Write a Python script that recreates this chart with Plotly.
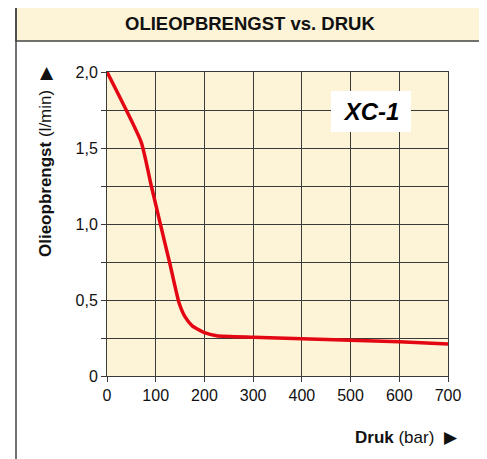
import plotly.graph_objects as go

# Data
druk = [0, 70, 91, 108, 129, 148, 160, 175, 200, 225, 300, 400, 500, 600, 700]
opbrengst = [2.0, 1.54, 1.25, 1.02, 0.74, 0.48, 0.39, 0.33, 0.285, 0.265, 0.255, 0.245, 0.235, 0.225, 0.21]

x_ticks = [0, 100, 200, 300, 400, 500, 600, 700]
x_ticktext = ["0", "100", "200", "300", "400", "500", "600", "700"]
y_ticks = [0, 0.25, 0.5, 0.75, 1.0, 1.25, 1.5, 1.75, 2.0]
y_ticktext = ["0", "", "0,5", "", "1,0", "", "1,5", "", "2,0"]

title_text = "OLIEOPBRENGST vs. DRUK"
model_label = "XC-1"

CREAM = "#FDF3D6"
GRID = "#3a3a3a"
FONT = "Liberation Sans, Arial, sans-serif"

fig = go.Figure()
fig.add_trace(go.Scatter(
    x=druk, y=opbrengst, mode="lines",
    line=dict(color="#E30613", width=3.5, shape="spline", smoothing=0.5),
    showlegend=False, hoverinfo="skip",
))

OFF = 8  # page body margin
W, H = 487, 459
L, R, T, B = 107 - OFF, 448 - OFF, 72 - OFF, 376 - OFF

def px(x):
    return (x - OFF - L) / (R - L)

def py(y):
    return (B - (y - OFF)) / (B - T)

fig.update_layout(
    width=W, height=H,
    margin=dict(l=L, r=W - R, t=T, b=H - B),
    paper_bgcolor="white",
    plot_bgcolor=CREAM,
    font=dict(family=FONT, size=16, color="#111"),
    xaxis=dict(
        range=[0, 700], tickvals=x_ticks, ticktext=x_ticktext,
        showgrid=True, gridcolor=GRID, gridwidth=1,
        ticks="outside", ticklen=5, tickcolor=GRID,
        showline=True, linecolor=GRID, linewidth=1, mirror=True,
        zeroline=False, fixedrange=True,
    ),
    yaxis=dict(
        range=[0, 2.0], tickvals=y_ticks, ticktext=y_ticktext,
        showgrid=True, gridcolor=GRID, gridwidth=1,
        ticks="outside", ticklen=5, tickcolor=GRID,
        showline=True, linecolor=GRID, linewidth=1, mirror=True,
        zeroline=False, fixedrange=True,
    ),
    shapes=[
        dict(type="rect", xref="paper", yref="paper",
             x0=px(16), x1=px(483), y0=py(41), y1=py(5),
             fillcolor=CREAM, line=dict(color="#444", width=1.5), layer="below"),
        dict(type="rect", xref="paper", yref="paper",
             x0=px(16), x1=px(483), y0=py(480), y1=py(5),
             fillcolor="rgba(0,0,0,0)", line=dict(color="#444", width=1.5), layer="below"),
    ],
    annotations=[
        dict(text="<b>" + title_text + "</b>", xref="paper", yref="paper",
             x=px(250), y=py(23), xanchor="center", yanchor="middle",
             showarrow=False, font=dict(family=FONT, size=18.5, color="#111")),
        dict(text="<b>Olieopbrengst</b> (l/min)  ▶", xref="paper", yref="paper",
             x=px(45), y=py(162), xanchor="center", yanchor="middle", textangle=-90,
             showarrow=False, font=dict(family=FONT, size=17, color="#111")),
        dict(text="<b>Druk</b> (bar)  ▶", xref="paper", yref="paper",
             x=px(460), y=py(437), xanchor="right", yanchor="middle",
             showarrow=False, font=dict(family=FONT, size=17, color="#111")),
        dict(text="<b><i>" + model_label + "</i></b>", x=542, y=1.737,
             xref="x", yref="y", xanchor="center", yanchor="middle",
             showarrow=False, bgcolor="white", bordercolor="white",
             borderpad=6, width=66,
             font=dict(family=FONT, size=24, color="#000")),
    ],
)

fig.write_html("out.html")
